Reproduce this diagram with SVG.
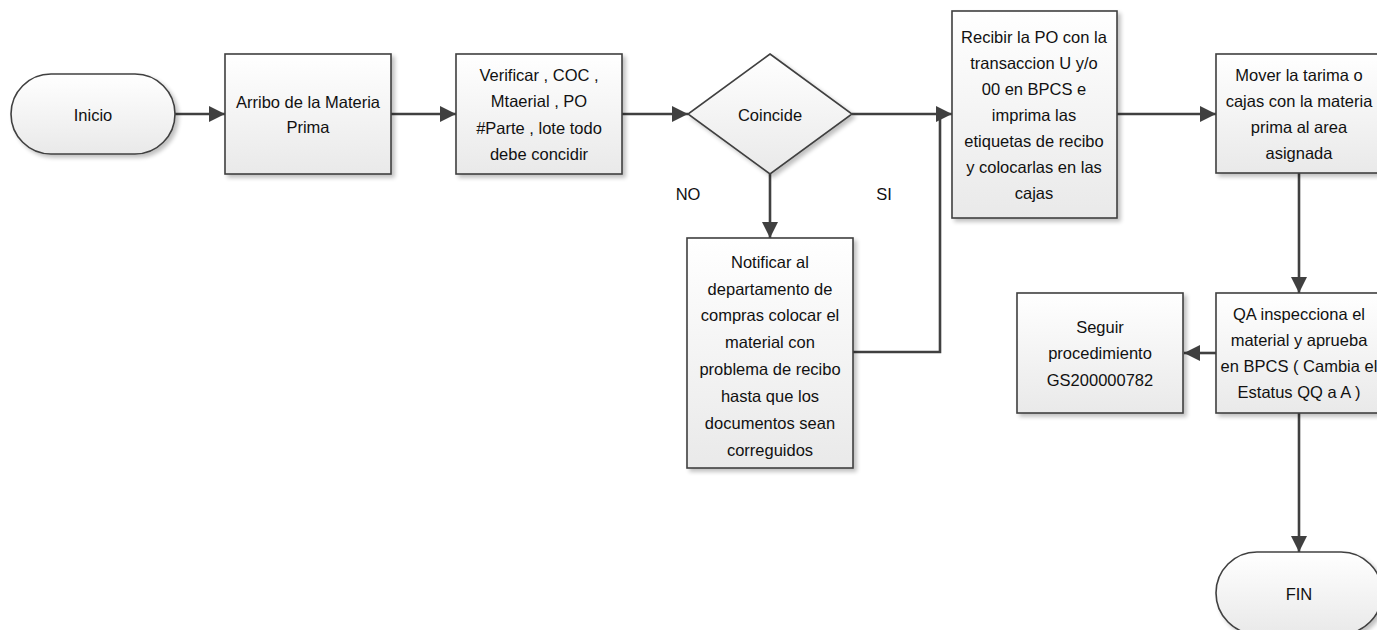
<svg xmlns="http://www.w3.org/2000/svg" width="1377" height="630" viewBox="0 0 1377 630">
  <style>
    .shape { fill: url(#boxFill); stroke: #404040; stroke-width: 1.6; filter: url(#shadow); }
    .label { font-family: "Liberation Sans", Arial, sans-serif; font-size: 16.5px; fill: #111; text-anchor: middle; dominant-baseline: central; }
    .edge { fill: none; stroke: #404040; stroke-width: 2.6; }
    .arrow { marker-end: url(#head); }
  </style>
  <defs>
    <linearGradient id="boxFill" x1="0" y1="0" x2="0" y2="1">
      <stop offset="0" stop-color="#ffffff"/>
      <stop offset="1" stop-color="#e9e9e9"/>
    </linearGradient>
    <filter id="shadow" x="-10%" y="-10%" width="130%" height="130%">
      <feGaussianBlur in="SourceAlpha" stdDeviation="2"/>
      <feOffset dx="3" dy="3" result="blur"/>
      <feComponentTransfer><feFuncA type="linear" slope="0.25"/></feComponentTransfer>
      <feMerge><feMergeNode/><feMergeNode in="SourceGraphic"/></feMerge>
    </filter>
    <marker id="head" viewBox="0 0 10 10" refX="10" refY="5" markerWidth="6.2" markerHeight="6.2" markerUnits="strokeWidth" orient="auto">
      <path d="M0,0 L10,5 L0,10 z" fill="#404040"/>
    </marker>
  </defs>

  <rect width="1377" height="630" fill="#ffffff"/>

  <!-- connectors -->
  <g id="connectors">
    <line class="edge arrow" x1="175" y1="114" x2="225" y2="114"/>
    <line class="edge arrow" x1="391" y1="114" x2="456" y2="114"/>
    <line class="edge arrow" x1="622" y1="114" x2="688" y2="114"/>
    <line class="edge arrow" x1="852" y1="114" x2="952" y2="114"/>
    <line class="edge arrow" x1="770" y1="174" x2="770" y2="238"/>
    <polyline class="edge" points="853,352 940,352 940,114"/>
    <line class="edge arrow" x1="1117" y1="114" x2="1216" y2="114"/>
    <line class="edge arrow" x1="1299" y1="173" x2="1299" y2="293"/>
    <line class="edge arrow" x1="1216" y1="353" x2="1184" y2="353"/>
    <line class="edge arrow" x1="1299" y1="413" x2="1299" y2="552"/>
    <text class="label" x="688" y="194">NO</text>
    <text class="label" x="884" y="194">SI</text>
  </g>

  <g id="inicio">
    <rect class="shape" x="11" y="74" width="164" height="80" rx="40" ry="40"/>
    <text class="label" x="93" y="115">Inicio</text>
  </g>

  <g id="arribo">
    <rect class="shape" x="225" y="54" width="166" height="120"/>
    <text class="label" x="308" y="102">Arribo de la Materia</text>
    <text class="label" x="308" y="127">Prima</text>
  </g>

  <g id="verificar">
    <rect class="shape" x="456" y="54" width="166" height="120"/>
    <text class="label" x="539" y="75">Verificar , COC ,</text>
    <text class="label" x="539" y="101">Mtaerial , PO</text>
    <text class="label" x="539" y="128">#Parte , lote todo</text>
    <text class="label" x="539" y="154">debe concidir</text>
  </g>

  <g id="coincide">
    <polygon class="shape" points="770,54 852,114 770,174 688,114"/>
    <text class="label" x="770" y="115">Coincide</text>
  </g>

  <g id="notificar">
    <rect class="shape" x="687" y="238" width="166" height="230"/>
    <text class="label" x="770" y="262">Notificar al</text>
    <text class="label" x="770" y="289">departamento de</text>
    <text class="label" x="770" y="315">compras colocar el</text>
    <text class="label" x="770" y="342">material con</text>
    <text class="label" x="770" y="369">problema de recibo</text>
    <text class="label" x="770" y="396">hasta que los</text>
    <text class="label" x="770" y="423">documentos sean</text>
    <text class="label" x="770" y="450">correguidos</text>
  </g>

  <g id="recibir">
    <rect class="shape" x="952" y="11" width="165" height="207"/>
    <text class="label" x="1034" y="37">Recibir la PO con la</text>
    <text class="label" x="1034" y="63">transaccion U y/o</text>
    <text class="label" x="1034" y="89">00 en BPCS e</text>
    <text class="label" x="1034" y="115">imprima las</text>
    <text class="label" x="1034" y="141">etiquetas de recibo</text>
    <text class="label" x="1034" y="167">y colocarlas en las</text>
    <text class="label" x="1034" y="193">cajas</text>
  </g>

  <g id="mover">
    <rect class="shape" x="1216" y="54" width="166" height="119"/>
    <text class="label" x="1299" y="75">Mover la tarima o</text>
    <text class="label" x="1299" y="101">cajas con la materia</text>
    <text class="label" x="1299" y="127">prima al area</text>
    <text class="label" x="1299" y="153">asignada</text>
  </g>

  <g id="qa">
    <rect class="shape" x="1216" y="293" width="166" height="120"/>
    <text class="label" x="1299" y="314">QA inspecciona el</text>
    <text class="label" x="1299" y="340">material y aprueba</text>
    <text class="label" x="1299" y="366">en BPCS ( Cambia el</text>
    <text class="label" x="1299" y="392">Estatus QQ a A )</text>
  </g>

  <g id="seguir">
    <rect class="shape" x="1017" y="293" width="166" height="120"/>
    <text class="label" x="1100" y="327">Seguir</text>
    <text class="label" x="1100" y="353">procedimiento</text>
    <text class="label" x="1100" y="380">GS200000782</text>
  </g>

  <g id="fin">
    <rect class="shape" x="1216" y="552" width="166" height="82" rx="41" ry="41"/>
    <text class="label" x="1299" y="594">FIN</text>
  </g>
</svg>
